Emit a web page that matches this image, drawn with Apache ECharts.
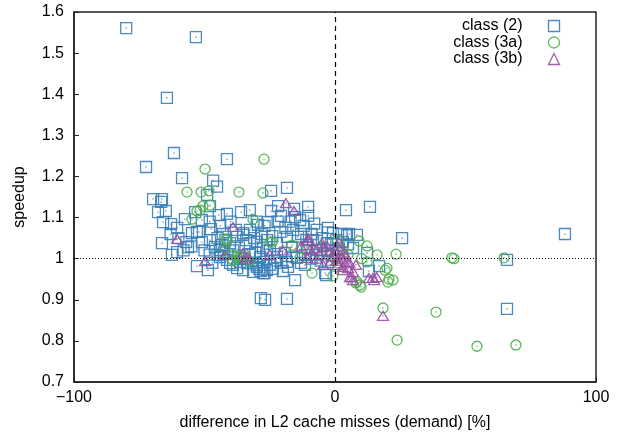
<!DOCTYPE html>
<html>
<head>
<meta charset="utf-8">
<script src="https://cdn.jsdelivr.net/npm/echarts@6/dist/echarts.min.js"></script>
<style>html,body{margin:0;padding:0;background:#fff}#c{width:619px;height:436px}</style>
</head>
<body>
<div id="c"></div>
<script>
var seriesNames = ['class (2)', 'class (3a)', 'class (3b)'];
var xTicks = [-100, 0, 100];
var yTicks = [0.7, 0.8, 0.9, 1, 1.1, 1.2, 1.3, 1.4, 1.5, 1.6];

var class2 = [
[-80,1.561],[-53.3,1.539],[-64.4,1.391],[-61.7,1.257],[-72.4,1.223],[-58.6,1.196],[-41.4,1.242],[-46.7,1.19],[-45.2,1.175],[-24.5,1.165],[-18.4,1.172],[-49,1.155],
[-69.7,1.145],[-66.3,1.145],[-66.6,1.138],[-67.8,1.113],[-64.8,1.116],[-36,1.113],[-32.6,1.118],[-24.5,1.116],[-21.8,1.128],[-15.7,1.121],[-10.3,1.126],[-10.3,1.104],[-47.9,1.128],
[-65.9,1.089],[-62.8,1.084],[-60.5,1.075],[-57.5,1.096],[-53.6,1.113],[-51,1.094],[-47.5,1.072],[-54.8,1.062],[-52.9,1.065],[-66.3,1.038],[-56.3,1.028],[-51,1.04],[-47.9,1.045],
[-41.4,1.109],[-44.5,1.106],[-20.7,1.104],[-15.3,1.101],[-13.4,1.094],[-25.7,1.089],[-29.5,1.082],[-32.6,1.07],[-35.2,1.062],[-2.7,1.075],
[-62.5,1.009],[-60.5,1.016],[-52.9,0.982],[-48.7,0.972],[-52.1,1.065],
[-28.4,0.904],[-26.8,0.9],[-18.4,0.902],[-15.3,0.948],
[4.2,1.118],[13.4,1.126],[88.1,1.06],[25.7,1.05],[65.9,0.997],[65.9,0.878],[5.4,1.06],[8.4,1.058],[12.3,1.014],[16.9,0.982],[13,0.97],[-3.4,0.96],[-11.5,0.985],[6.9,1.026],[4.6,1.057],[-0.8,1.062],[-2.7,1.064],
[-46,1.028],[-43.3,1.033],[-40.2,1.038],[-37.5,1.053],[-35.2,1.058],[-32.6,1.038],[-29.9,1.041],[-27.6,1.026],[-24.9,1.021],[-22.2,1.038],[-18.4,1.053],[-16.5,1.028],[-14.2,1.053],[-10.7,1.028],[-8.4,1.045],[-5.7,1.021],[-3.1,1.038],
[-44.1,1.004],[-40.2,0.989],[-37.5,0.977],[-35.2,0.972],[-31.4,0.968],[-29.9,0.98],[-27.6,0.992],[-26.1,0.972],[-23.8,0.975],[-18.4,0.992],[-18,0.98],[-33.7,0.989],[-36.4,0.992],[-32.6,1.009],[-28.7,1.004],[-22.2,1.004],[-19.2,1.014],[-14.6,1.002],[-11.5,1.009],[-6.9,1.021],[-3.8,0.965],[-2.7,0.992],
[-44.1,1.021],[-45,1.009],[-41.4,0.997],[-39.1,0.985],[-50,1.02],[-48,1.01],[-42,1.045],[-38.5,1.03],[-34,1.045],[-31,1.05],[-28,1.06],[-26,1.045],[-24,1.055],[-21,1.065],[-19,1.075],[-16,1.07],[-13,1.06],[-11,1.045],[-9,1.06],[-7,1.07],[-5,1.05],[-3,1.02],[-1.5,1.035],[-1,1.01],[0.5,1.045],[1.5,1.025],[2.5,1.06],[3,1.04],[5,1.035],
[-37,1.008],[-34.5,1.0],[-31.5,0.99],[-29,0.975],[-27,0.965],[-25,0.985],[-30.5,1.015],[-26,1.01],[-23,0.995],[-20.5,0.99],[-16.5,1.005],[-13,0.99],[-9,1.0],[-7,1.01],[-5.5,0.995],[-39,1.02],[-42.5,1.015],[-47,0.99],[-58,1.02],[-55,1.03],[-57,1.04],[-43,1.06],[-38,1.07],[-30,1.09],[-27,1.08],[-22,1.09],[-17,1.09],[-12,1.08],[-8,1.085],[-28.5,0.97],[-27.5,0.965],[-30,0.985],[-20,0.97],[-45,1.05],[-60,1.05],[-63,1.06],[-48,1.09],[-44,1.08],[-40,1.09]
];

var class3a = [
[-49.8,1.218],[-56.7,1.162],[-51.3,1.162],[-48.3,1.165],[-51.7,1.118],[-50.6,1.128],[-47.9,1.13],[-54.8,1.096],[-52.9,1.116],
[-27.2,1.242],[-36.8,1.162],[-27.6,1.16],[-31.4,1.096],[-41.8,1.048],[-24.1,1.04],
[-8.8,0.965],[-0.8,0.958],
[44.8,1.002],[45.6,1.0],[64.8,1.002],[23.4,1.011],[16.1,1.009],[12.3,1.031],[9.2,1.043],[12.3,0.992],[10.3,1.0],[19.9,0.977],[19.2,0.972],[20.7,0.95],[22.2,0.948],[9.6,0.936],[10,0.931],[8,0.941],[20.3,0.943],[8.4,0.944],
[18.4,0.88],[38.7,0.87],[23.8,0.802],[54.4,0.787],[69.3,0.79],
[-41.4,1.045],[-42.1,1.026],[-39.5,1.009],[-37.5,1.004],[-36.4,1.004],[-37,1.0],[-34.5,1.009],[-24.9,1.041],[-16.5,1.033],[-13.4,1.002],[1,1.045],[-10.7,1.021],[-3,1.01],[0,1.0],[3,1.02],[5,1.01],[-5,1.03],[1,0.99],[-39,0.995],[-33,0.995]
];

var class3b = [
[-60.5,1.048],[-18.8,1.135],[-15.7,1.116],[-39.1,1.077],[-10.3,1.05],[-5,1.038],[-49.8,0.994],[-42.1,1.009],[-35.2,1.014],[-33.7,1.004],[-34.5,1.0],[-10.3,1.045],[-9.6,1.021],[-10.7,1.002],[-4.6,1.028],[-4.6,0.985],
[18.4,0.861],[13,0.953],[14.5,0.953],[16,0.955],[15,0.948],[6.9,0.968],[5.7,0.955],[3,0.98],[1.1,0.985],[4.6,0.992],[6.5,0.955],[6.9,0.948],[3,0.972],[5,0.977],
[0,1.02],[1,1.03],[2,1.01],[-1,1.005],[0.5,0.995],[2.5,1.0],[3.5,1.015],[-2,1.02],[-3,1.03],[-6,1.01],[-7,1.0],[4,1.005],[1.5,1.04],[-1.5,0.995],[5.5,0.99],[8,0.985],[-8,1.025],[-13,1.03],[-20,1.02],[-25,1.01]
];

var colors = ['#377eb8', '#4daf4a', '#984ea3'];
var symbols = ['rect', 'circle', 'triangle'];
var sizes = [11, 10, [11, 9]];
var datasets = [class2, class3a, class3b];
var FONT = '"Liberation Sans", Arial, Helvetica, sans-serif';

var series = [];
datasets.forEach(function (d, i) {
  var s = {
    name: seriesNames[i],
    type: 'scatter',
    data: d,
    symbol: symbols[i],
    symbolSize: sizes[i],
    itemStyle: { color: 'none', borderColor: colors[i], borderWidth: 1.3, opacity: 0.9 },
    emphasis: { disabled: true },
    z: 3
  };
  if (i === 0) {
    s.markLine = {
      silent: true, symbol: 'none', label: { show: false },
      animation: false,
      data: [
        { xAxis: 0, lineStyle: { color: '#000', type: [5, 4], width: 1.2 } },
        { yAxis: 1, lineStyle: { color: '#000', type: [1, 2], width: 1 } }
      ]
    };
  }
  series.push(s);
});
datasets.forEach(function (d, i) {
  series.push({
    name: 'dot' + i,
    type: 'scatter',
    data: d,
    symbol: 'circle',
    symbolSize: 1.6,
    itemStyle: { color: colors[i] },
    silent: true,
    z: 4
  });
});

var chart = echarts.init(document.getElementById('c'), null, { renderer: 'canvas' });
chart.setOption({
  animation: false,
  backgroundColor: '#fff',
  grid: { left: 74, right: 23, top: 12, bottom: 54, show: true, borderColor: '#222', borderWidth: 1.5, backgroundColor: 'transparent' },
  legend: {
    data: seriesNames.map(function (n, i) {
      return { name: n, icon: symbols[i], itemStyle: { color: 'none', borderColor: colors[i], borderWidth: 1.3 } };
    }),
    orient: 'vertical',
    align: 'right',
    right: 52,
    top: 13,
    itemWidth: 11,
    itemHeight: 11,
    itemGap: 0.5,
    selectedMode: false,
    textStyle: { fontFamily: FONT, fontSize: 16, color: '#000', lineHeight: 16, padding: [0, 21, 0, 0] }
  },
  xAxis: {
    type: 'value',
    min: xTicks[0], max: xTicks[xTicks.length - 1], interval: 100,
    name: 'difference in L2 cache misses (demand) [%]',
    nameLocation: 'middle', nameGap: 33,
    nameTextStyle: { fontFamily: FONT, fontSize: 16, color: '#000' },
    axisLine: { show: true, onZero: false, lineStyle: { color: '#222', width: 1.5 } },
    axisTick: { show: true, inside: true, length: 5, lineStyle: { color: '#222' } },
    axisLabel: { margin: 8, fontFamily: FONT, fontSize: 16, color: '#000',
      formatter: function (v) { return v < 0 ? '\u2212' + Math.abs(v) : String(v); } },
    splitLine: { show: false }
  },
  yAxis: {
    type: 'value',
    min: yTicks[0], max: yTicks[yTicks.length - 1], interval: 0.1,
    name: 'speedup',
    nameLocation: 'middle', nameGap: 46,
    nameTextStyle: { fontFamily: FONT, fontSize: 16, color: '#000' },
    axisLine: { show: true, onZero: false, lineStyle: { color: '#222', width: 1.5 } },
    axisTick: { show: true, inside: true, length: 5, lineStyle: { color: '#222' } },
    axisLabel: { margin: 10, fontFamily: FONT, fontSize: 16, color: '#000',
      formatter: function (v) { return String(Math.round(v * 10) / 10); } },
    splitLine: { show: false }
  },
  series: series
});
</script>
</body>
</html>
